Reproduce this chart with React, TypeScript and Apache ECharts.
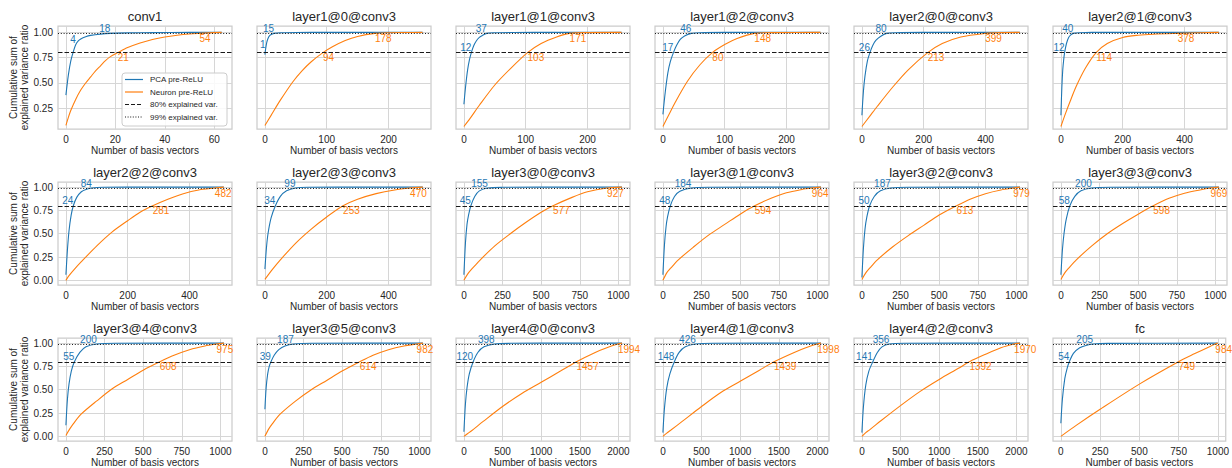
import React, { useEffect, useRef } from "react";
import * as echarts from "echarts";

const FONT = '"Liberation Sans", Arial, "DejaVu Sans", sans-serif';
const BLUE = "#1f77b4";
const ORANGE = "#ff7f0e";
const TEXT = "#262626";
const GRID = "#d6d6d6";

const TITLES = [
  "conv1", "layer1@0@conv3", "layer1@1@conv3", "layer1@2@conv3", "layer2@0@conv3", "layer2@1@conv3",
  "layer2@2@conv3", "layer2@3@conv3", "layer3@0@conv3", "layer3@1@conv3", "layer3@2@conv3", "layer3@3@conv3",
  "layer3@4@conv3", "layer3@5@conv3", "layer4@0@conv3", "layer4@1@conv3", "layer4@2@conv3", "fc",
];

// number of basis vectors available in each layer (x extent)
const X_EXTENT = [64, 256, 256, 256, 512, 512, 512, 512, 1024, 1024, 1024, 1024, 1024, 1024, 2048, 2048, 2048, 1000];

const TICKS_64 = [0, 20, 40, 60];
const TICKS_256 = [0, 100, 200];
const TICKS_512 = [0, 200, 400];
const TICKS_1024 = [0, 250, 500, 750, 1000];
const TICKS_2048 = [0, 500, 1000, 1500, 2000];
const X_TICKS = [
  TICKS_64, TICKS_256, TICKS_256, TICKS_256, TICKS_512, TICKS_512,
  TICKS_512, TICKS_512, TICKS_1024, TICKS_1024, TICKS_1024, TICKS_1024,
  TICKS_1024, TICKS_1024, TICKS_2048, TICKS_2048, TICKS_2048, TICKS_1024,
];
const Y_TICKS_ROW1 = [0.25, 0.5, 0.75, 1.0];
const Y_TICKS = [0, 0.25, 0.5, 0.75, 1.0];
const Y_RANGE_ROW1 = [0.045, 1.063];
const Y_RANGE = [-0.05, 1.055];

// annotated numbers of basis vectors needed for 80% / 99% explained variance
const PCA_80 = [4, 1, 12, 17, 26, 12, 24, 34, 45, 48, 50, 58, 55, 39, 120, 148, 141, 54];
const PCA_80_Y = [0.88, 0.83, 0.8, 0.8, 0.8, 0.8, 0.8, 0.8, 0.8, 0.8, 0.8, 0.8, 0.8, 0.8, 0.8, 0.8, 0.8, 0.8];
const PCA_99 = [18, 15, 37, 46, 80, 40, 84, 99, 155, 184, 187, 200, 200, 187, 398, 426, 356, 205];
const NEURON_80 = [21, 94, 103, 80, 213, 114, 281, 253, 577, 594, 613, 598, 608, 614, 1457, 1439, 1392, 749];
const NEURON_99 = [54, 178, 171, 148, 399, 378, 482, 470, 927, 964, 979, 969, 975, 982, 1994, 1998, 1970, 984];

// cumulative explained variance ratio curves
const PCA_CURVES: number[][][] = [
  [[0, 0.38], [1, 0.58], [2, 0.72], [3, 0.81], [4, 0.88], [5, 0.915], [6, 0.935], [8, 0.957], [10, 0.97], [14, 0.983], [18, 0.99], [25, 0.995], [35, 0.998], [50, 0.9995], [63, 1]],
  [[0, 0.78], [1, 0.83], [3, 0.9], [5, 0.94], [8, 0.97], [12, 0.985], [15, 0.99], [25, 0.996], [50, 0.999], [100, 1], [255, 1]],
  [[0, 0.29], [3, 0.48], [6, 0.63], [9, 0.73], [12, 0.8], [16, 0.87], [20, 0.915], [25, 0.95], [30, 0.97], [37, 0.99], [50, 0.996], [80, 0.999], [150, 1], [255, 1]],
  [[0, 0.19], [4, 0.42], [8, 0.6], [12, 0.71], [17, 0.8], [22, 0.87], [28, 0.93], [35, 0.965], [46, 0.99], [60, 0.997], [100, 0.9995], [255, 1]],
  [[0, 0.18], [5, 0.42], [10, 0.57], [18, 0.72], [26, 0.8], [35, 0.87], [45, 0.92], [60, 0.96], [80, 0.99], [110, 0.997], [200, 0.9995], [511, 1]],
  [[0, 0.18], [3, 0.45], [6, 0.63], [9, 0.73], [12, 0.8], [18, 0.89], [25, 0.95], [32, 0.975], [40, 0.99], [60, 0.997], [100, 0.9995], [511, 1]],
  [[0, 0.06], [5, 0.33], [10, 0.53], [17, 0.7], [24, 0.8], [35, 0.89], [50, 0.95], [65, 0.975], [84, 0.99], [120, 0.998], [200, 0.9998], [511, 1]],
  [[0, 0.12], [5, 0.35], [10, 0.5], [20, 0.67], [34, 0.8], [50, 0.9], [70, 0.96], [99, 0.99], [140, 0.998], [250, 0.9998], [511, 1]],
  [[0, 0.06], [10, 0.4], [20, 0.6], [30, 0.7], [45, 0.8], [70, 0.9], [100, 0.96], [155, 0.99], [250, 0.998], [500, 0.9999], [1023, 1]],
  [[0, 0.06], [10, 0.38], [20, 0.57], [30, 0.68], [48, 0.8], [75, 0.9], [110, 0.955], [184, 0.99], [300, 0.998], [1023, 1]],
  [[0, 0.03], [10, 0.35], [20, 0.55], [32, 0.68], [50, 0.8], [80, 0.9], [120, 0.96], [187, 0.99], [300, 0.998], [1023, 1]],
  [[0, 0.06], [10, 0.33], [20, 0.5], [35, 0.66], [58, 0.8], [90, 0.9], [130, 0.96], [200, 0.99], [320, 0.998], [1023, 1]],
  [[0, 0.12], [10, 0.4], [20, 0.56], [35, 0.7], [55, 0.8], [90, 0.9], [130, 0.96], [200, 0.99], [320, 0.998], [1023, 1]],
  [[0, 0.29], [8, 0.52], [18, 0.67], [28, 0.75], [39, 0.8], [60, 0.87], [90, 0.93], [130, 0.97], [187, 0.99], [300, 0.998], [1023, 1]],
  [[0, 0.05], [20, 0.35], [40, 0.52], [70, 0.67], [120, 0.8], [180, 0.9], [260, 0.96], [398, 0.99], [600, 0.998], [1000, 0.9999], [2047, 1]],
  [[0, 0.04], [20, 0.3], [50, 0.52], [90, 0.67], [148, 0.8], [210, 0.9], [290, 0.96], [426, 0.99], [650, 0.998], [2047, 1]],
  [[0, 0.04], [20, 0.32], [50, 0.55], [90, 0.7], [141, 0.8], [200, 0.9], [260, 0.96], [356, 0.99], [550, 0.998], [2047, 1]],
  [[0, 0.14], [10, 0.4], [25, 0.62], [40, 0.73], [54, 0.8], [80, 0.89], [120, 0.95], [160, 0.975], [205, 0.99], [300, 0.997], [999, 1]],
];

const NEURON_CURVES: number[][][] = [
  [[0, 0.08], [1, 0.16], [2, 0.23], [4, 0.34], [6, 0.43], [8, 0.5], [10, 0.56], [12, 0.62], [14, 0.67], [16, 0.72], [18, 0.76], [21, 0.8], [25, 0.85], [30, 0.895], [35, 0.93], [40, 0.955], [45, 0.972], [50, 0.984], [54, 0.99], [58, 0.995], [63, 1]],
  [[0, 0.08], [10, 0.18], [25, 0.33], [45, 0.51], [60, 0.62], [75, 0.71], [94, 0.8], [110, 0.86], [130, 0.92], [150, 0.96], [178, 0.99], [200, 0.997], [230, 0.999], [255, 1]],
  [[0, 0.07], [10, 0.15], [25, 0.28], [50, 0.48], [75, 0.64], [103, 0.8], [125, 0.89], [150, 0.955], [171, 0.99], [200, 0.998], [255, 1]],
  [[0, 0.07], [10, 0.19], [20, 0.31], [40, 0.52], [60, 0.68], [80, 0.8], [100, 0.88], [120, 0.94], [148, 0.99], [180, 0.998], [255, 1]],
  [[0, 0.07], [25, 0.17], [50, 0.27], [100, 0.46], [150, 0.63], [213, 0.8], [260, 0.89], [320, 0.955], [399, 0.99], [450, 0.998], [511, 1]],
  [[0, 0.07], [15, 0.2], [30, 0.32], [50, 0.47], [80, 0.65], [114, 0.8], [150, 0.89], [200, 0.95], [250, 0.972], [300, 0.982], [378, 0.99], [450, 0.996], [511, 1]],
  [[0, 0.0], [10, 0.05], [25, 0.11], [50, 0.2], [100, 0.37], [150, 0.52], [200, 0.64], [240, 0.73], [281, 0.8], [330, 0.87], [380, 0.93], [430, 0.97], [482, 0.99], [511, 1]],
  [[0, 0.01], [25, 0.12], [50, 0.22], [100, 0.4], [150, 0.55], [200, 0.68], [253, 0.8], [300, 0.87], [360, 0.93], [420, 0.97], [470, 0.99], [511, 1]],
  [[0, 0.0], [25, 0.07], [50, 0.12], [100, 0.21], [200, 0.37], [300, 0.5], [400, 0.62], [500, 0.73], [577, 0.8], [700, 0.89], [800, 0.95], [927, 0.99], [1023, 1]],
  [[0, 0.0], [25, 0.08], [50, 0.13], [100, 0.22], [200, 0.36], [300, 0.49], [400, 0.6], [500, 0.71], [594, 0.8], [700, 0.88], [800, 0.94], [900, 0.975], [964, 0.99], [1023, 1]],
  [[0, 0.01], [25, 0.08], [50, 0.13], [100, 0.22], [200, 0.36], [300, 0.48], [400, 0.59], [500, 0.7], [613, 0.8], [700, 0.87], [800, 0.93], [900, 0.97], [979, 0.99], [1023, 1]],
  [[0, 0.01], [25, 0.08], [50, 0.13], [100, 0.22], [200, 0.37], [300, 0.5], [400, 0.61], [500, 0.71], [598, 0.8], [700, 0.88], [800, 0.935], [900, 0.97], [969, 0.99], [1023, 1]],
  [[0, 0.01], [25, 0.08], [50, 0.14], [100, 0.24], [200, 0.38], [300, 0.51], [400, 0.61], [500, 0.71], [608, 0.8], [700, 0.87], [800, 0.93], [900, 0.97], [975, 0.99], [1023, 1]],
  [[0, 0.0], [25, 0.08], [50, 0.14], [100, 0.24], [200, 0.38], [300, 0.5], [400, 0.6], [500, 0.7], [614, 0.8], [700, 0.87], [800, 0.93], [900, 0.97], [982, 0.99], [1023, 1]],
  [[0, 0.0], [50, 0.03], [100, 0.06], [250, 0.16], [500, 0.32], [750, 0.46], [1000, 0.58], [1250, 0.7], [1457, 0.8], [1700, 0.9], [1850, 0.95], [1994, 0.99], [2047, 1]],
  [[0, 0.0], [50, 0.035], [100, 0.065], [250, 0.16], [500, 0.32], [750, 0.47], [1000, 0.59], [1250, 0.71], [1439, 0.8], [1700, 0.9], [1850, 0.95], [1998, 0.99], [2047, 1]],
  [[0, 0.0], [50, 0.04], [100, 0.07], [250, 0.17], [500, 0.33], [750, 0.48], [1000, 0.61], [1250, 0.73], [1392, 0.8], [1600, 0.88], [1800, 0.95], [1970, 0.99], [2047, 1]],
  [[0, 0.0], [100, 0.12], [250, 0.29], [500, 0.56], [749, 0.8], [850, 0.885], [950, 0.965], [984, 0.99], [999, 1]],
];

const LEGEND_ITEMS = ["PCA pre-ReLU", "Neuron pre-ReLU", "80% explained var.", "99% explained var."];

function buildOption() {
  const grid: any[] = [];
  const xAxis: any[] = [];
  const yAxis: any[] = [];
  const series: any[] = [];
  const title: any[] = [];
  const labelBase = { fontSize: 10, fontFamily: FONT };

  for (let i = 0; i < TITLES.length; i++) {
    const r = Math.floor(i / 6);
    const c = i % 6;
    const left = 58 + 199 * c;
    const top = 26 + 156 * r;
    const width = 174;
    const height = 103;
    grid.push({ left, top, width, height, show: true, borderColor: "#cccccc", borderWidth: 1.25, backgroundColor: "transparent" });
    title.push({
      text: TITLES[i], left: left + width / 2, top: top - 16, textAlign: "center", padding: 0,
      textStyle: { fontSize: 13, fontWeight: "normal", color: TEXT, fontFamily: FONT },
    });
    const R = X_EXTENT[i];
    xAxis.push({
      type: "value", gridIndex: i, min: -0.05 * R, max: 1.05 * R,
      axisLine: { show: false }, axisTick: { show: false, customValues: X_TICKS[i] },
      axisLabel: {
        customValues: X_TICKS[i], color: TEXT, fontSize: 10, fontFamily: FONT, margin: 5,
        formatter: (v: number) => String(v),
      },
      splitLine: { show: true, lineStyle: { color: GRID, width: 1 } },
      name: "Number of basis vectors", nameLocation: "middle", nameGap: 16,
      nameTextStyle: { color: TEXT, fontSize: 10, fontFamily: FONT },
    });
    const yTicks = r === 0 ? Y_TICKS_ROW1 : Y_TICKS;
    const yRange = r === 0 ? Y_RANGE_ROW1 : Y_RANGE;
    yAxis.push({
      type: "value", gridIndex: i, min: yRange[0], max: yRange[1],
      axisLine: { show: false }, axisTick: { show: false, customValues: yTicks },
      axisLabel: {
        show: c === 0, customValues: yTicks, color: TEXT, fontSize: 10, fontFamily: FONT, margin: 5,
        formatter: (v: number) => v.toFixed(2),
      },
      splitLine: { show: true, lineStyle: { color: GRID, width: 1 } },
      name: c === 0 ? "Cumulative sum of\nexplained variance ratio" : "",
      nameLocation: "middle", nameGap: 26,
      nameTextStyle: { color: TEXT, fontSize: 10, fontFamily: FONT, lineHeight: 11 },
    });

    const ptLabel = (color: string, align: string, va: string) => ({
      show: true, position: "inside", align, verticalAlign: va, color, ...labelBase, formatter: "{c}",
    });

    series.push({
      type: "line", name: "PCA pre-ReLU", xAxisIndex: i, yAxisIndex: i,
      data: PCA_CURVES[i], showSymbol: false, symbol: "none", smooth: 0.3,
      lineStyle: { color: BLUE, width: 1.1 }, itemStyle: { color: BLUE }, z: 3,
      markLine: {
        silent: true, symbol: ["none", "none"], label: { show: false },
        data: [
          { yAxis: 0.8, lineStyle: { type: [4.5, 2], color: "#1a1a1a", width: 1.2 } },
          { yAxis: 0.99, lineStyle: { type: [1, 1.8], color: "#1a1a1a", width: 1.2 } },
        ],
      },
      markPoint: {
        silent: true, symbol: "circle", symbolSize: 1, itemStyle: { color: "rgba(0,0,0,0)" },
        label: ptLabel(BLUE, "right", "bottom"),
        data: [
          { coord: [PCA_80[i], PCA_80_Y[i]], value: PCA_80[i] },
          { coord: [PCA_99[i], 0.99], value: PCA_99[i] },
        ],
      },
    });
    series.push({
      type: "line", name: "Neuron pre-ReLU", xAxisIndex: i, yAxisIndex: i,
      data: NEURON_CURVES[i], showSymbol: false, symbol: "none", smooth: 0.3,
      lineStyle: { color: ORANGE, width: 1.1 }, itemStyle: { color: ORANGE }, z: 4,
      markPoint: {
        silent: true, symbol: "circle", symbolSize: 1, itemStyle: { color: "rgba(0,0,0,0)" },
        label: ptLabel(ORANGE, "left", "top"),
        data: [
          { coord: [NEURON_80[i], 0.8], value: NEURON_80[i] },
          { coord: [NEURON_99[i], 0.99], value: NEURON_99[i] },
        ],
      },
    });
  }

  const ly = [79.5, 92, 104.5, 117];
  const lineStyles = [
    { stroke: BLUE, lineWidth: 1.2 },
    { stroke: ORANGE, lineWidth: 1.2 },
    { stroke: "#1a1a1a", lineWidth: 1.2, lineDash: [4, 2] },
    { stroke: "#1a1a1a", lineWidth: 1.2, lineDash: [1, 1.6] },
  ];
  const graphic: any[] = [
    {
      type: "rect", z: 100, shape: { x: 122, y: 73, width: 105, height: 53, r: 3 },
      style: { fill: "rgba(255,255,255,0.85)", stroke: "#cccccc", lineWidth: 1 },
    },
  ];
  LEGEND_ITEMS.forEach((name, k) => {
    graphic.push({ type: "line", z: 101, shape: { x1: 125, y1: ly[k], x2: 143, y2: ly[k] }, style: lineStyles[k] });
    graphic.push({
      type: "text", z: 101, x: 150, y: ly[k],
      style: { text: name, fill: TEXT, fontSize: 8, fontFamily: FONT, verticalAlign: "middle", align: "left" },
    });
  });

  return { animation: false, backgroundColor: "#ffffff", title, grid, xAxis, yAxis, series, graphic };
}

export default function App() {
  const ref = useRef<HTMLDivElement>(null);
  useEffect(() => {
    if (!ref.current) return;
    const chart = echarts.init(ref.current, undefined, { renderer: "svg" });
    chart.setOption(buildOption());
    return () => chart.dispose();
  }, []);
  return (
    <div
      ref={ref}
      style={{ position: "absolute", left: 0, top: 0, width: 1232, height: 468, background: "#ffffff" }}
    />
  );
}
